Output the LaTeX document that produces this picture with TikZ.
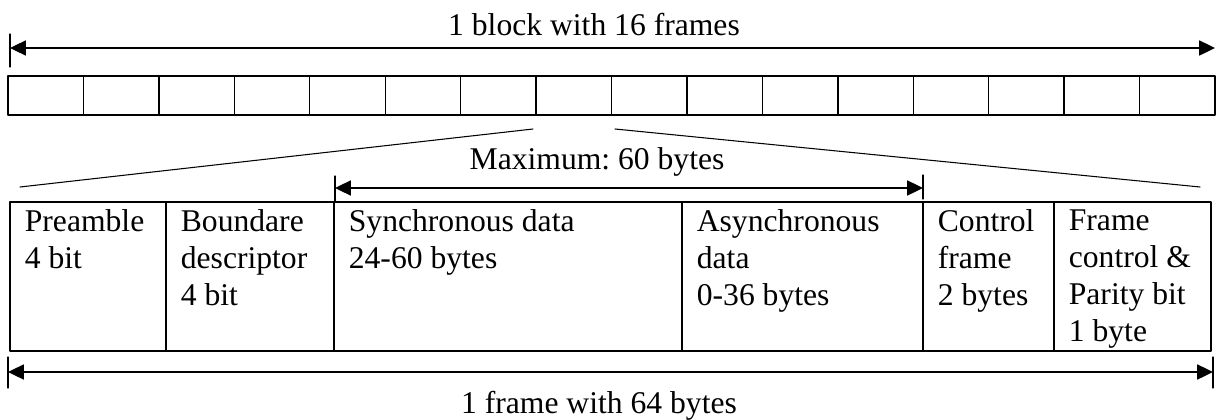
\documentclass[tikz,border=0pt]{standalone}
\usepackage{fontspec}
\setmainfont{Liberation Serif}
\usetikzlibrary{arrows.meta}
\frenchspacing

\begin{document}
\begin{tikzpicture}[line cap=round,line join=round,>={Triangle[length=9pt,width=8.5pt]},x=0.02cm,y=-0.02cm,
  every node/.style={font=\fontsize{18}{21.2}\selectfont,inner sep=0pt},
  field/.style={anchor=north west,align=left},
  dim/.style={<->,line width=1.1pt},
  tick/.style={line width=0.6pt},
  box/.style={line width=0.8pt}]
\useasboundingbox (0,0) rectangle (1216,419);
% block of 16 frames
\coordinate (blockL) at (10,48);
\coordinate (blockR) at (1215,48);
\draw [dim] (blockL)--(blockR);
\draw [tick] (10,34)--(10,67);
\node[anchor=base] (blocklabel) at (594,35) {1 block with 16 frames};
\foreach \i in {0,...,15}
  \draw [box] (8+\i*75.44,76) rectangle ++(75.44,39);
% zoom into one frame
\coordinate (zoomL) at (533,129);
\coordinate (zoomR) at (615,129);
\coordinate (frameL) at (20,187);
\coordinate (frameR) at (1200,187);
\draw [tick] (zoomL)--(frameL);
\draw [tick] (zoomR)--(frameR);
\node[anchor=base] (maxlabel) at (597,169) {Maximum: 60 bytes};
\coordinate (maxL) at (335,188);
\coordinate (maxR) at (923,188);
\draw [dim] (maxL)--(maxR);
\draw [tick] (335,176)--(335,201);
\draw [tick] (923,175)--(923,199);
% the frame
\draw [box] (10,202) rectangle (1211,351);
\foreach \x in {166,334,682,923,1054}
  \draw [box] (\x,202)--(\x,351);
\node[field] (pre) at (24.5,209) {Preamble\\4 bit};
\node[field] (bnd) at (180.5,209) {Boundare\\descriptor\\4 bit};
\node[field] (syn) at (348.5,209) {Synchronous data\\24-60 bytes};
\node[field] (asy) at (696.5,209) {Asynchronous\\data\\0-36 bytes};
\node[field] (ctl) at (937.5,209) {Control\\frame\\2 bytes};
\node[field] (fcp) at (1068.5,209) {Frame\\control \&\\Parity bit\\1 byte};
% 1 frame
\coordinate (frmL) at (8,372);
\coordinate (frmR) at (1213,372);
\draw [dim] (frmL)--(frmR);
\draw [tick] (8,357)--(8,388);
\draw [tick] (1213,357)--(1213,388);
\node[anchor=base] (frmlabel) at (599,413) {1 frame with 64 bytes};
\end{tikzpicture}
\end{document}
